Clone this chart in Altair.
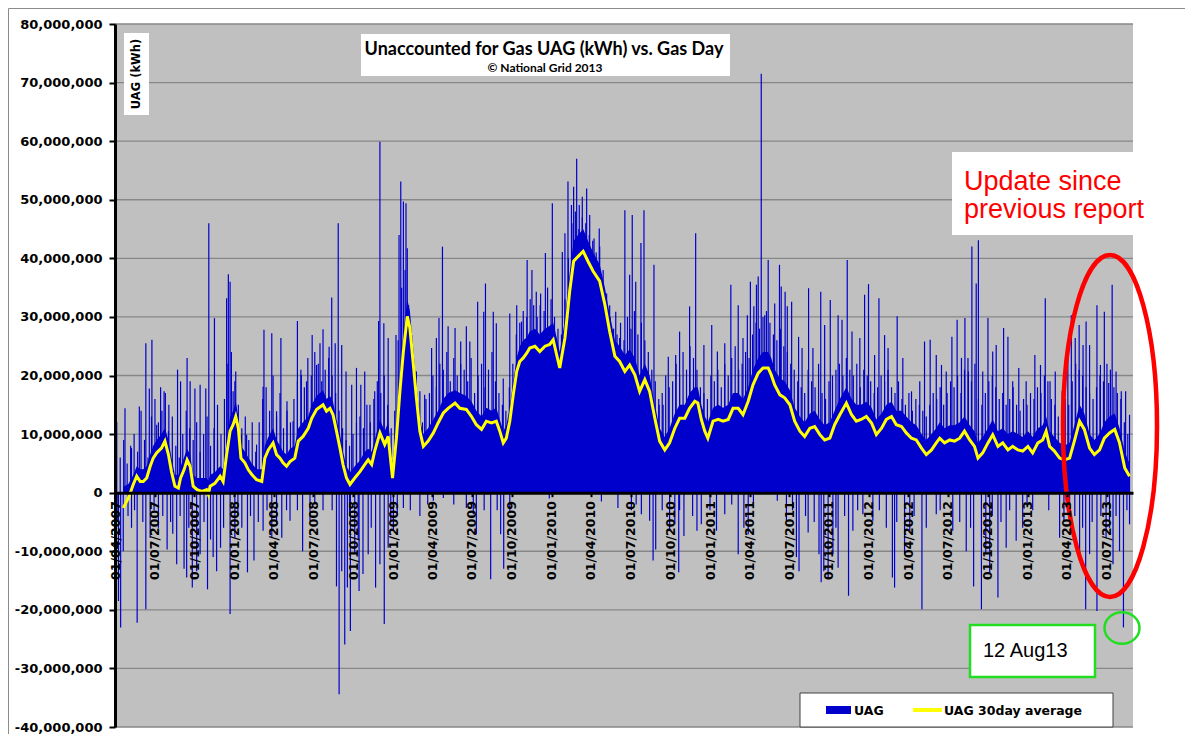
import altair as alt
import pandas as pd

START = pd.Timestamp("2007-04-01")
MIO = 1_000_000

# ---- 30-day average (day offset from 01/04/2007, value in million kWh) ----
avg_day = [19, 31, 42, 50, 58, 65, 73, 81, 88, 96,
           107, 115, 123, 130, 138, 146, 151, 159, 166, 173,
           180, 189, 200, 211, 215, 219, 230, 242, 249, 257,
           265, 272, 278, 284, 290, 299, 307, 315, 326, 338,
           345, 353, 364, 372, 380, 387, 395, 403, 414, 422,
           433, 445, 453, 464, 479, 487, 495, 502, 510, 518,
           525, 533, 541, 552, 564, 575, 583, 591, 598, 610,
           621, 629, 639, 648, 656, 664, 673, 679, 687, 694,
           702, 710, 721, 733, 744, 756, 767, 783, 794, 809,
           821, 832, 844, 855, 867, 878, 886, 894, 901, 909,
           917, 925, 932, 940, 948, 955, 967, 978, 990, 1001,
           1009, 1017, 1024, 1036, 1047, 1056, 1066, 1078, 1089, 1101,
           1116, 1128, 1139, 1151, 1162, 1174, 1185, 1197, 1208, 1220,
           1231, 1243, 1254, 1266, 1277, 1289, 1300, 1312, 1323, 1335,
           1342, 1350, 1358, 1365, 1377, 1389, 1400, 1412, 1423, 1435,
           1446, 1458, 1469, 1481, 1492, 1504, 1511, 1519, 1531, 1542,
           1554, 1565, 1577, 1588, 1600, 1611, 1623, 1634, 1646, 1657,
           1669, 1684, 1696, 1707, 1718, 1730, 1742, 1753, 1765, 1776,
           1788, 1799, 1811, 1822, 1834, 1845, 1857, 1868, 1880, 1891,
           1899, 1910, 1922, 1933, 1945, 1956, 1968, 1979, 1987, 1998,
           2010, 2021, 2033, 2044, 2056, 2067, 2079, 2090, 2102, 2113,
           2125, 2136, 2144, 2152, 2163, 2175, 2186, 2198, 2209, 2221,
           2232, 2244, 2255, 2267, 2278, 2290, 2302, 2313, 2325, 2336]
avg_val = [-2.6, -0.9, 1.4, 2.8, 1.9, 1.9, 2.5, 4.5, 5.9, 6.8,
           7.6, 8.8, 6.5, 3.6, 1.1, 0.8, 2.5, 3.9, 5.6, 4.5,
           1.1, 0.5, 0.2, 0.5, -0.3, 1.1, 1.6, 2.8, 1.9, 6.5,
           10.5, 11.6, 13.0, 11.0, 5.9, 5.1, 3.9, 3.1, 2.2, 1.9,
           5.9, 7.3, 8.5, 6.5, 5.9, 5.1, 4.5, 5.3, 5.9, 8.8,
           9.6, 11.0, 12.7, 14.2, 15.0, 13.9, 14.4, 13.3, 10.5, 7.6,
           4.8, 2.5, 1.4, 2.5, 3.6, 4.8, 5.6, 4.8, 7.1, 10.2,
           8.2, 9.6, 2.5, 9.3, 17.3, 24.1, 30.1, 28.1, 21.8, 16.2,
           10.5, 7.9, 8.8, 10.2, 11.9, 13.6, 14.4, 15.3, 14.4, 14.2,
           13.0, 11.6, 10.8, 12.2, 11.9, 12.2, 10.5, 8.5, 9.3, 12.2,
           16.7, 20.7, 22.4, 23.0, 23.8, 24.7, 25.0, 24.1, 25.0, 25.3,
           26.1, 23.5, 21.3, 26.4, 34.4, 39.5, 40.3, 41.2, 39.5, 37.8,
           36.1, 32.1, 27.5, 23.3, 22.4, 20.7, 21.8, 20.1, 17.3, 19.3,
           17.3, 12.7, 8.8, 7.3, 8.5, 11.0, 12.7, 12.7, 14.4, 15.6,
           15.3, 12.5, 10.5, 9.3, 12.2, 12.5, 12.2, 12.5, 14.4, 14.4,
           13.3, 15.6, 18.4, 20.4, 21.3, 21.3, 20.1, 18.4, 16.7, 16.2,
           15.0, 12.2, 10.5, 9.6, 11.0, 11.3, 9.9, 9.0, 9.3, 11.6,
           13.3, 15.3, 13.3, 12.2, 12.5, 13.0, 11.9, 9.9, 11.0, 12.5,
           13.0, 11.6, 11.3, 10.2, 9.3, 9.0, 7.6, 6.5, 7.3, 8.5,
           9.3, 8.5, 9.0, 8.8, 9.3, 10.5, 9.0, 7.9, 5.9, 6.8,
           8.5, 9.9, 7.9, 8.5, 7.3, 7.9, 7.3, 7.1, 7.9, 6.8,
           8.5, 9.0, 10.5, 7.9, 7.1, 5.9, 5.6, 5.9, 8.8, 12.2,
           10.8, 7.6, 6.5, 7.3, 9.3, 10.2, 10.8, 8.5, 4.2, 2.8]

# ---- solid part of the daily UAG bars (same days, million kWh) ----
body_val = [1, 1.5, 3, 4.5, 4, 4, 4.5, 6.5, 8, 9,
            10, 11, 9, 6, 3, 3, 4.5, 6, 7.5, 6.5,
            3, 2.5, 2.5, 2.5, 2, 3, 3.5, 4.5, 4, 8.5,
            13, 14, 15.5, 13, 8, 7, 6, 5, 4, 4,
            8, 9.5, 11, 9, 8, 7, 6.5, 7.5, 8, 11,
            12, 13, 15, 16.5, 17.5, 16, 16.5, 15.5, 12.5, 10,
            7, 4.5, 3.5, 4.5, 5.5, 7, 7.5, 7, 9, 12.5,
            10.5, 12, 5, 11.5, 20, 27, 33, 31, 24.5, 18.5,
            12.5, 10, 11, 12.5, 14, 16, 17, 17.5, 17, 16.5,
            15.5, 14, 13, 14.5, 14, 14.5, 12.5, 10.5, 11.5, 14.5,
            19, 23, 25, 26, 26.5, 27.5, 28, 27, 28, 28.5,
            29, 26.5, 24, 29.5, 37.5, 43, 44, 45, 43, 41,
            39, 35, 30.5, 26, 25, 23.5, 24.5, 23, 20, 22,
            20, 15, 11, 9.5, 11, 13.5, 15, 15, 17, 18,
            18, 15, 13, 12, 14.5, 15, 14.5, 15, 17, 17,
            16, 18, 21, 23, 24, 24, 23, 21, 19.5, 19,
            17.5, 14.5, 13, 12, 13.5, 14, 12.5, 11.5, 12, 14,
            16, 18, 16, 15, 15, 15.5, 14.5, 12.5, 13.5, 15,
            15.5, 14, 14, 13, 12, 11.5, 10, 9, 10, 11,
            12, 11, 11.5, 11.5, 12, 13, 11.5, 10.5, 8.5, 9.5,
            11, 12.5, 10.5, 11, 10, 10.5, 10, 9.5, 10.5, 9.5,
            11, 11.5, 13, 10.5, 9.5, 8.5, 8, 8.5, 11.5, 15,
            13.5, 10, 9, 10, 12, 13, 13.5, 11, 7, 5]

# ---- medium daily UAG values forming the ragged fringe (every 8th day from day 4) ----
fringe_val = [12, 6, 9, 5, 8, 10, 7, 14, 9, 6,
              13, 16, 12, 14, 17, 15, 13, 8, 6, 10,
              14, 11, 9, 12, 7, 10, 13, 8, 11, 9,
              10, 16, 22, 24, 19, 15, 11, 13, 9, 12,
              7, 12, 16, 18, 14, 20, 13, 17, 11, 14,
              12, 16, 19, 21, 18, 23, 20, 24, 22, 19,
              21, 23, 20, 17, 14, 11, 9, 8, 10, 12,
              13, 11, 15, 12, 16, 19, 17, 20, 15, 11,
              14, 26, 35, 38, 32, 24, 18, 14, 12, 16,
              17, 20, 18, 22, 21, 24, 19, 23, 20, 22,
              21, 19, 23, 17, 20, 22, 18, 21, 24, 19,
              17, 15, 14, 18, 22, 27, 29, 31, 30, 33,
              32, 30, 34, 31, 35, 33, 30, 28, 27, 33,
              40, 46, 48, 45, 47, 46, 44, 43, 41, 42,
              38, 34, 30, 28, 27, 29, 26, 30, 28, 31,
              27, 29, 26, 24, 21, 19, 16, 17, 20, 18,
              19, 22, 20, 24, 21, 25, 23, 21, 18, 17,
              16, 20, 19, 21, 18, 22, 20, 23, 25, 21,
              22, 24, 23, 27, 29, 28, 30, 31, 29, 27,
              26, 28, 25, 24, 22, 21, 19, 18, 17, 21,
              19, 18, 22, 17, 16, 19, 20, 21, 22, 20,
              23, 21, 20, 22, 18, 21, 20, 19, 17, 18,
              20, 19, 21, 18, 17, 19, 16, 15, 17, 14,
              16, 15, 14, 13, 15, 17, 16, 18, 15, 17,
              19, 18, 20, 17, 21, 23, 19, 22, 16, 15,
              17, 19, 20, 18, 16, 17, 15, 16, 18, 15,
              14, 16, 15, 17, 16, 18, 17, 20, 19, 16,
              15, 13, 14, 16, 15, 19, 22, 21, 20, 18,
              17, 16, 18, 20, 19, 22, 21, 18, 17, 16,
              12, 10]
fringe_day = list(range(4, 4 + 8 * len(fringe_val), 8))

# ---- individual tall daily UAG spikes above zero ----
up_day = [1, 2, 23, 38, 56, 71, 79, 85, 96, 105, 113, 123, 144, 151, 166, 173, 184, 196, 209, 216,
          229, 236, 257, 261, 265, 272, 278, 291, 303, 326, 341, 343, 361, 372, 382, 396, 410, 420, 429, 441,
          454, 464, 472, 479, 493, 499, 507, 514, 522, 532, 545, 556, 566, 575, 587, 598, 607, 610, 619, 629,
          647, 654, 658, 664, 670, 673, 683, 694, 702, 713, 729, 740, 746, 754, 767, 783, 796, 809, 817, 835,
          849, 853, 871, 878, 894, 909, 925, 936, 949, 960, 970, 979, 991, 1007, 1030, 1036, 1043, 1051, 1056, 1063,
          1069, 1076, 1086, 1093, 1103, 1115, 1124, 1139, 1153, 1162, 1174, 1185, 1191, 1199, 1211, 1218, 1227, 1241, 1253, 1262,
          1274, 1291, 1300, 1323, 1337, 1356, 1374, 1387, 1404, 1418, 1435, 1446, 1456, 1463, 1471, 1477, 1481, 1488, 1496, 1504,
          1519, 1530, 1534, 1543, 1548, 1558, 1574, 1582, 1597, 1607, 1625, 1634, 1647, 1665, 1674, 1686, 1697, 1715, 1726, 1735,
          1749, 1759, 1772, 1780, 1801, 1814, 1834, 1853, 1864, 1877, 1891, 1903, 1914, 1927, 1939, 1949, 1957, 1965, 1973, 1983,
          1988, 1998, 2010, 2021, 2029, 2046, 2056, 2067, 2081, 2098, 2118, 2131, 2142, 2153, 2165, 2181, 2194, 2202, 2211, 2220,
          2229, 2236, 2244, 2261, 2269, 2278, 2288, 2296, 2305, 2317, 2327, 2336]
up_val = [19.3, 15.6, 14.4, 7.6, 14.7, 25.5, 17.8, 26.1, 11.6, 18.0, 17.3, 10.5, 21.0, 19.0, 23.0, 19.0, 17.8, 18.4, 17.8, 46.0,
          29.8, 15.0, 33.2, 37.3, 36.0, 17.3, 20.7, 9.9, 9.9, 8.2, 18.1, 27.8, 27.2, 13.9, 26.4, 15.6, 12.2, 29.3, 20.1, 19.0,
          26.9, 21.8, 25.5, 27.9, 24.9, 33.3, 25.5, 46.0, 25.2, 20.7, 18.4, 21.3, 18.4, 20.7, 15.0, 17.3, 29.3, 59.9, 28.9, 26.4,
          26.9, 44.0, 53.1, 49.7, 49.4, 41.7, 26.9, 20.7, 17.3, 16.7, 24.7, 26.4, 29.8, 42.0, 28.4, 28.1, 25.8, 28.4, 25.8, 32.6,
          30.9, 35.7, 30.9, 28.9, 19.5, 30.6, 32.0, 29.2, 39.7, 38.0, 34.3, 32.0, 40.9, 49.4, 41.1, 44.3, 53.1, 49.1, 52.2, 57.0,
          49.1, 50.5, 51.9, 47.4, 43.4, 45.1, 35.5, 32.0, 30.9, 26.4, 48.2, 37.2, 47.4, 36.0, 42.6, 48.2, 19.5, 38.9, 15.0, 15.0,
          23.2, 23.5, 27.5, 31.8, 44.3, 25.2, 28.6, 24.1, 25.5, 35.5, 32.0, 26.4, 30.3, 36.0, 31.8, 35.5, 36.9, 71.5, 30.3, 39.7,
          32.3, 38.9, 35.2, 34.3, 31.8, 32.6, 26.6, 24.7, 34.9, 24.7, 34.3, 28.6, 32.9, 30.3, 29.5, 39.7, 27.5, 26.4, 33.8, 35.6,
          23.5, 33.2, 26.9, 24.7, 30.1, 23.0, 17.3, 19.0, 25.8, 26.1, 23.5, 21.8, 20.7, 26.6, 29.5, 23.0, 29.8, 20.7, 42.0, 35.7,
          43.1, 20.7, 29.8, 24.1, 25.2, 28.1, 26.6, 19.0, 21.3, 19.0, 23.5, 21.8, 33.2, 19.0, 20.7, 17.3, 24.1, 30.3, 26.4, 28.6,
          25.2, 29.2, 25.2, 32.0, 21.8, 30.9, 18.7, 35.5, 20.7, 17.3, 17.3, 13.3]

# ---- individual daily UAG values below zero ----
down_day = [5, 8, 13, 19, 30, 38, 45, 51, 64, 71, 81, 90, 100, 110, 120, 128, 133, 142, 150, 159,
            165, 170, 178, 188, 196, 205, 213, 220, 226, 234, 243, 250, 265, 276, 283, 292, 305, 312, 320, 330,
            341, 350, 361, 372, 384, 395, 403, 420, 432, 449, 460, 479, 500, 510, 516, 522, 529, 535, 540, 542,
            552, 560, 562, 571, 583, 590, 600, 610, 620, 629, 635, 641, 650, 664, 680, 702, 720, 733, 756, 780,
            809, 825, 832, 850, 865, 880, 888, 895, 909, 1000, 1120, 1158, 1189, 1200, 1212, 1231, 1239, 1245, 1260, 1277,
            1289, 1298, 1300, 1310, 1330, 1340, 1350, 1370, 1385, 1404, 1420, 1435, 1448, 1458, 1470, 1525, 1546, 1560, 1569, 1575,
            1590, 1596, 1610, 1621, 1626, 1632, 1642, 1653, 1660, 1665, 1680, 1689, 1699, 1710, 1722, 1745, 1760, 1776, 1790, 1795,
            1800, 1818, 1830, 1840, 1858, 1868, 1891, 1900, 1929, 1945, 1960, 1970, 1977, 1995, 2005, 2014, 2020, 2033, 2040, 2052,
            2060, 2075, 2090, 2100, 2113, 2150, 2175, 2185, 2198, 2210, 2221, 2228, 2235, 2244, 2250, 2261, 2270, 2282, 2290, 2298,
            2305, 2313, 2322, 2330, 2336]
down_val = [-5.0, -18.5, -23.0, -10.0, -4.0, -6.0, -3.0, -22.2, -5.0, -19.9, -7.7, -3.0, -6.0, -4.0, -9.7, -5.0, -7.0, -12.2, -4.0, -13.0,
            -14.5, -6.0, -16.2, -13.4, -10.5, -5.0, -16.5, -8.0, -11.0, -13.4, -9.4, -6.0, -20.7, -7.7, -4.0, -6.0, -13.6, -4.0, -11.6, -5.0,
            -6.5, -3.0, -7.7, -5.4, -7.7, -3.0, -4.8, -3.0, -10.0, -4.8, -2.0, -3.0, -3.0, -16.0, -34.4, -13.4, -25.9, -16.2, -4.0, -23.6,
            -10.5, -8.0, -16.8, -13.9, -10.5, -6.0, -16.2, -12.2, -22.4, -9.4, -5.0, -6.5, -4.0, -2.6, -3.0, -4.0, -2.0, -1.4, -0.9, -2.0,
            -2.6, -3.7, -7.1, -3.0, -14.8, -3.0, -7.1, -13.0, -3.1, -1.0, -1.5, -2.6, -3.0, -2.0, -3.7, -4.8, -11.6, -9.7, -3.0, -6.5,
            -5.4, -13.6, -3.0, -7.4, -4.0, -6.5, -5.4, -3.0, -6.5, -3.7, -2.0, -10.5, -6.0, -7.1, -2.0, -1.4, -4.8, -3.0, -11.0, -13.4,
            -4.0, -6.8, -5.0, -10.5, -15.3, -13.4, -14.5, -10.5, -6.0, -12.8, -4.0, -17.6, -6.5, -3.0, -3.7, -4.8, -3.0, -6.0, -14.5, -16.2,
            -5.0, -10.5, -6.5, -4.0, -19.9, -6.0, -3.7, -3.0, -6.5, -5.0, -10.0, -6.0, -16.0, -19.9, -10.5, -13.9, -4.0, -17.9, -5.0, -9.4,
            -3.0, -8.2, -6.0, -2.0, -3.0, -3.0, -7.7, -5.0, -4.8, -4.0, -11.6, -6.0, -19.9, -10.5, -5.0, -20.2, -4.0, -7.7, -6.0, -12.2,
            -4.0, -10.0, -23.0, -3.0, -5.4]

# ---- axis ticks ----
x_ticks = ["2007-04-01", "2007-07-01", "2007-10-01", "2008-01-01", "2008-04-01", "2008-07-01",
           "2008-10-01", "2009-01-01", "2009-04-01", "2009-07-01", "2009-10-01", "2010-01-01",
           "2010-04-01", "2010-07-01", "2010-10-01", "2011-01-01", "2011-04-01", "2011-07-01",
           "2011-10-01", "2012-01-01", "2012-04-01", "2012-07-01", "2012-10-01", "2013-01-01",
           "2013-04-01", "2013-07-01"]
y_ticks = [-40000000, -30000000, -20000000, -10000000, 0, 10000000, 20000000,
           30000000, 40000000, 50000000, 60000000, 70000000, 80000000]


def iso_days(days):
    return [(START + pd.Timedelta(days=int(d))).strftime("%Y-%m-%d") for d in days]


def dt(s):
    y, m, d = (int(p) for p in s.split("-"))
    return alt.DateTime(year=y, month=m, date=d, utc=True)


avg_df = pd.DataFrame({"date": iso_days(avg_day), "v": [a * MIO for a in avg_val]})
body_df = pd.DataFrame({"date": iso_days(avg_day), "v": [b * MIO for b in body_val]})
fringe_df = pd.DataFrame({"date": iso_days(fringe_day), "v": [f * MIO for f in fringe_val]})
up_df = pd.DataFrame({"date": iso_days(up_day), "v": [u * MIO for u in up_val]})
down_df = pd.DataFrame({"date": iso_days(down_day), "v": [u * MIO for u in down_val]})
grid_df = pd.DataFrame({"v": y_ticks})
one = pd.DataFrame({"a": [0]})

W, H = 1018, 703
BLUE = "#0000CC"
BOLD = "DejaVu Sans"

x_scale = alt.Scale(type="utc", domain=[dt("2007-04-01"), dt("2013-08-31")])
y_scale = alt.Scale(domain=[-40000000, 80000000], nice=False, zero=False)

x_enc = alt.X(
    "date:T", scale=x_scale,
    axis=alt.Axis(
        values=[dt(s) for s in x_ticks],
        labelExpr="utcFormat(datum.value, '%d/%m/%Y')",
        labelAngle=270, labelFont=BOLD, labelFontWeight="bold", labelFontSize=12.5,
        labelColor="black", labelPadding=4, labelFlush=False, labelOverlap=False,
        domainColor="black", domainWidth=3, tickColor="black", tickSize=4, tickWidth=2,
        grid=False, title=None, offset=-H * 40 / 120, zindex=1,
    ),
)
y_enc = alt.Y(
    "v:Q", scale=y_scale,
    axis=alt.Axis(
        values=y_ticks,
        labelExpr="(datum.value < 0 ? '-' : '') + format(abs(datum.value), ',d')",
        labelFont=BOLD, labelFontWeight="bold", labelFontSize=13, labelColor="black",
        labelPadding=7, domainColor="black", domainWidth=3, tickColor="black",
        tickSize=6, tickWidth=2, grid=False, title=None, zindex=1,
    ),
)

grid = alt.Chart(grid_df).mark_rule(color="#878787", strokeWidth=1.3).encode(y=y_enc)
body = alt.Chart(body_df).mark_area(color=BLUE, opacity=1, interpolate="linear").encode(
    x=x_enc, y=y_enc, y2=alt.datum(0))
fringe = alt.Chart(fringe_df).mark_rule(color=BLUE, strokeWidth=1.2).encode(x=x_enc, y=y_enc, y2=alt.datum(0))
ups = alt.Chart(up_df).mark_rule(color=BLUE, strokeWidth=1.2).encode(x=x_enc, y=y_enc, y2=alt.datum(0))
downs = alt.Chart(down_df).mark_rule(color=BLUE, strokeWidth=1.2).encode(x=x_enc, y=y_enc, y2=alt.datum(0))
avg = alt.Chart(avg_df).mark_line(color="#FFFF00", strokeWidth=3).encode(x=x_enc, y=y_enc)


def box(x1, x2, y1, y2, **kw):
    return alt.Chart(one).mark_rect(**kw).encode(
        x=alt.value(x1), x2=alt.value(x2), y=alt.value(y1), y2=alt.value(y2))


def label(txt, x, y, **kw):
    return alt.Chart(one).mark_text(text=txt, **kw).encode(x=alt.value(x), y=alt.value(y))


title_box = box(246, 615, 10, 52, fill="white")
title1 = label("Unaccounted for Gas UAG (kWh) vs. Gas Day", 429, 31, font="Lato", fontWeight="bold",
               fontSize=18, color="black", align="center", baseline="alphabetic")
title2 = label("\u00a9 National Grid 2013", 430, 48, font="Lato", fontWeight="bold",
               fontSize=12, color="black", align="center", baseline="alphabetic")

ytitle_box = box(9, 34, 9, 91, fill="white")
ytitle = label("UAG (kWh)", 22, 50, font=BOLD, fontWeight="bold", fontSize=11.5, color="black",
               angle=270, align="center", baseline="middle")

red_box = box(837, 1018, 128, 211, fill="white")
red1 = label("Update since", 849, 166, font="Liberation Sans", fontSize=27, color="#FF0000",
             align="left", baseline="alphabetic")
red2 = label("previous report", 849, 194, font="Liberation Sans", fontSize=27, color="#FF0000",
             align="left", baseline="alphabetic")

ELLIPSE = "M 0 -1 A 0.275 1 0 1 1 0 1 A 0.275 1 0 1 1 0 -1 Z"
red_ellipse = alt.Chart(one).mark_point(shape=ELLIPSE, size=342 * 342, filled=False, stroke="#FF0000",
                                        strokeWidth=4.5, opacity=1).encode(x=alt.value(995), y=alt.value(402))

green_box = box(855, 980, 601, 653, fill="white", stroke="#22DD22", strokeWidth=2.5)
green_txt = label("12 Aug13", 868, 633, font="Liberation Sans", fontSize=20, color="black",
                  align="left", baseline="alphabetic")
CIRC = "M -1 0 A 1 0.9 0 1 1 1 0 A 1 0.9 0 1 1 -1 0 Z"
green_circle = alt.Chart(one).mark_point(shape=CIRC, size=35 * 35, filled=False, stroke="#22DD22",
                                         strokeWidth=2.5, opacity=1).encode(x=alt.value(1007), y=alt.value(604))

leg_box = box(685, 998, 669, 703, fill="white", stroke="#404040", strokeWidth=1)
leg_sw1 = box(711, 736, 682, 690, fill=BLUE)
leg_t1 = label("UAG", 739, 687, font=BOLD, fontWeight="bold", fontSize=12.5, color="black",
               align="left", baseline="middle")
leg_sw2 = alt.Chart(one).mark_rule(color="#FFFF00", strokeWidth=4).encode(
    x=alt.value(798), x2=alt.value(827), y=alt.value(686))
leg_t2 = label("UAG 30day average", 829, 687, font=BOLD, fontWeight="bold", fontSize=12.5,
               color="black", align="left", baseline="middle")

frame = box(-106.5, 1090, -15.5, 760, fillOpacity=0, stroke="#8c8c8c", strokeWidth=1)

chart = alt.layer(
    grid, body, fringe, ups, downs, avg,
    title_box, title1, title2, ytitle_box, ytitle,
    red_box, red1, red2, green_box, green_txt,
    leg_box, leg_sw1, leg_t1, leg_sw2, leg_t2,
    red_ellipse, green_circle, frame,
).properties(
    width=W, height=H,
    autosize=alt.AutoSizeParams(type="none"),
    padding={"left": 107, "top": 16, "right": 52, "bottom": 7},
    background="white",
).configure_view(fill="#C0C0C0", stroke=None)

chart.save("out.html", embed_options={"renderer": "svg", "actions": False})
